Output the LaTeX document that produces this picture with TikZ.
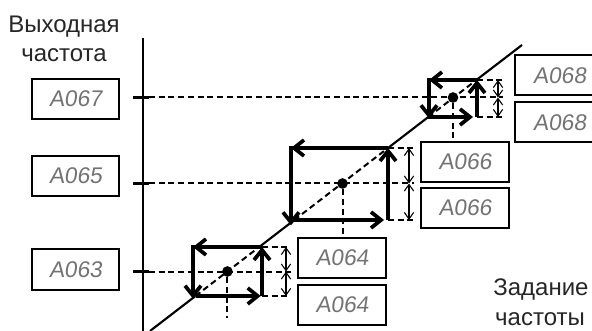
\documentclass[tikz,border=0pt]{standalone}
\usepackage{fontspec}
\setmainfont{Liberation Sans}
\newfontfamily\segfont[FakeSlant=0.14]{Liberation Sans}
\usetikzlibrary{arrows.meta}
\begin{document}
\begin{tikzpicture}[x=0.75pt,y=-0.75pt,
  thickarr/.style={line width=2.8pt,-{Straight Barb[length=7.5pt,width=12pt]}},
  thinline/.style={line width=1.6pt},
  dashline/.style={line width=1.5pt,dash pattern=on 4.5pt off 2.8pt},
  dimarr/.style={line width=0.8pt,{Straight Barb[length=5pt,width=7pt]}-{Straight Barb[length=5pt,width=7pt]}},
  tick/.style={line width=2.6pt},
  dotst/.style={circle,fill=black,inner sep=0pt,minimum size=8pt},
  disp/.style={draw,line width=1.5pt,minimum width=65.5pt,minimum height=30pt,inner sep=0pt,
     font=\segfont\fontsize{17}{20}\selectfont,text=black!55},
  lbl/.style={anchor=base,font=\fontsize{18}{21}\selectfont,text=black!85}]
\useasboundingbox (0,0) rectangle (592,331);
\clip (0,0) rectangle (592,331);

% labels
\node[lbl] (yl1) at (64,33) {Выходная};
\node[lbl] (yl2) at (64,62) {частота};
\node[lbl] (xl1) at (541,295) {Задание};
\node[lbl] (xl2) at (540,325) {частоты};

% display boxes
\node[disp] (b67) at (75.5,99) {A067};
\node[disp] (b65) at (75.5,176) {A065};
\node[disp] (b63) at (75.5,269.5) {A063};
\node[disp,minimum width=67pt] (b68a) at (559.7,75.5) {A068};
\node[disp,minimum width=67pt] (b68b) at (559.7,122.5) {A068};
\node[disp] (b66a) at (465,162) {A066};
\node[disp] (b66b) at (465,208) {A066};
\node[disp] (b64a) at (342,258) {A064};
\node[disp] (b64b) at (342,305) {A064};

% axis
\coordinate (axT) at (143,38);
\coordinate (axB) at (143,335);
\draw[thinline] (axT) -- (axB);

% loop 1
\coordinate (aTL) at (193,247); \coordinate (aTR) at (262,247);
\coordinate (aBL) at (193,296); \coordinate (aBR) at (262,296);
\coordinate (aLB) at (195.5,296); \coordinate (aLT) at (259.2,247);
\coordinate (aTick) at (133,271.5); \coordinate (aTick2) at (149,271.5);
\coordinate (aDT) at (286,247); \coordinate (aDM) at (286,271.5); \coordinate (aDB) at (286,296);
\coordinate (aET) at (291,247); \coordinate (aEM) at (291,271.5); \coordinate (aEB) at (291,296);
\coordinate (aDown) at (227.4,318);
% loop 2
\coordinate (bTL) at (291,148); \coordinate (bTR) at (388,148);
\coordinate (bBL) at (291,220); \coordinate (bBR) at (388,220);
\coordinate (bLB) at (294.3,220); \coordinate (bLT) at (388,148);
\coordinate (bTick) at (133,183.5); \coordinate (bTick2) at (149,183.5);
\coordinate (bDT) at (409,148); \coordinate (bDM) at (409,183.5); \coordinate (bDB) at (409,220);
\coordinate (bET) at (414,148); \coordinate (bEM) at (414,183.5); \coordinate (bEB) at (414,220);
% loop 3
\coordinate (cTL) at (429,80); \coordinate (cTR) at (477,80);
\coordinate (cBL) at (429,117); \coordinate (cBR) at (477,117);
\coordinate (cLB) at (428.3,117); \coordinate (cLT) at (476.4,80);
\coordinate (cTick) at (133,97.5); \coordinate (cTick2) at (149,97.5);
\coordinate (cDT) at (498,80); \coordinate (cDM) at (498,97.5); \coordinate (cDB) at (498,117);
\coordinate (cET) at (503,80); \coordinate (cEM) at (503,97.5); \coordinate (cEB) at (503,117);
% diagonal ends
\coordinate (dS) at (150,331);
\coordinate (dE) at (522,45);

% dots
\node[dotst] (pa) at (227.4,271.5) {};
\node[dotst] (pb) at (342.5,183.5) {};
\node[dotst] (pc) at (453,97.5) {};

% diagonal
\draw[thinline] (dS) -- (aLB);
\draw[dashline] (aLB) -- (aLT);
\draw[thinline] (aLT) -- (bLB);
\draw[dashline] (bLB) -- (bLT);
\draw[thinline] (bLT) -- (cLB);
\draw[dashline] (cLB) -- (cLT);
\draw[thinline] (cLT) -- (dE);

% ticks
\draw[tick] (aTick) -- (aTick2);
\draw[tick] (bTick) -- (bTick2);
\draw[tick] (cTick) -- (cTick2);

% dashed horizontals
\draw[dashline] (aTick2) -- (aEM);
\draw[dashline] (aTR) -- (aET);
\draw[dashline] (aBR) -- (aEB);
\draw[dashline] (bTick2) -- (bEM);
\draw[dashline] (bTR) -- (bET);
\draw[dashline] (bBR) -- (bEB);
\draw[dashline] (cTick2) -- (cEM);
\draw[dashline] (cTR) -- (cET);
\draw[dashline] (cBR) -- (cEB);

% dashed verticals
\draw[dashline] (pa) -- (aDown);
\draw[dashline] (pb) -- (pb |- b64a.north);
\draw[dashline] (pc) -- (pc |- b66a.north);

% dimension arrows
\draw[dimarr] (aDM) -- (aDT);
\draw[dimarr] (aDM) -- (aDB);
\draw[dimarr] (bDM) -- (bDT);
\draw[dimarr] (bDM) -- (bDB);
\draw[dimarr] (cDM) -- (cDT);
\draw[dimarr] (cDM) -- (cDB);

% hysteresis loops
\draw[thickarr] (aBR) -- (aTR);
\draw[thickarr] (aTR) -- (aTL);
\draw[thickarr] ([yshift=1.4pt]aTL) -- ([yshift=-2pt]aBL);
\draw[thickarr] (aLB) -- ([xshift=-1pt]aBR);

\draw[thickarr] (bBR) -- (bTR);
\draw[thickarr] (bTR) -- (bTL);
\draw[thickarr] ([yshift=1.4pt]bTL) -- ([yshift=-4pt]bBL);
\draw[thickarr] (bLB) -- ([xshift=-3pt]bBR);

\draw[thickarr] (cBR) -- (cTR);
\draw[thickarr] (cTR) -- (cTL);
\draw[thickarr] ([yshift=1.4pt]cTL) -- ([yshift=-1pt]cBL);
\draw[thickarr] (cLB) -- ([xshift=-3pt]cBR);
\end{tikzpicture}
\end{document}
